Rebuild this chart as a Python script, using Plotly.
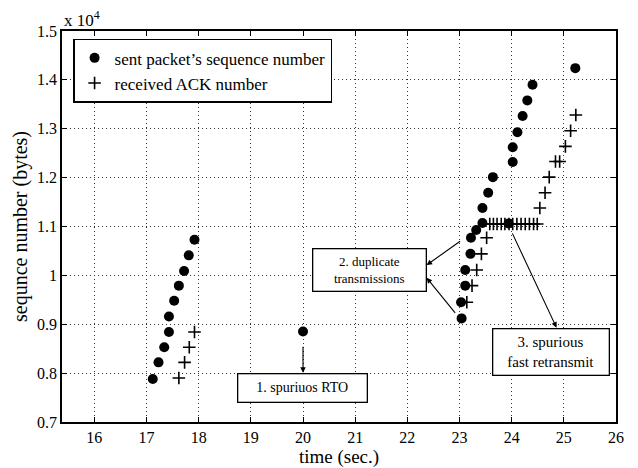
import plotly.graph_objects as go

# ---- data (sequence numbers in units of 10^4 bytes) ----
sent_t = [17.12, 17.23, 17.34, 17.43, 17.43, 17.53, 17.62, 17.72, 17.81, 17.92,
          20.0,
          23.04, 23.03, 23.11, 23.11, 23.21, 23.22, 23.32, 23.44, 23.44, 23.55, 23.64,
          23.94, 24.02, 24.02, 24.11, 24.21, 24.30, 24.40, 25.22]
sent_seq = [0.788, 0.822, 0.853, 0.884, 0.916, 0.948, 0.979, 1.009, 1.041, 1.073,
            0.885,
            0.912, 0.945, 0.979, 1.011, 1.044, 1.077, 1.093, 1.107, 1.138, 1.169, 1.201,
            1.106, 1.232, 1.262, 1.293, 1.326, 1.358, 1.390, 1.424]

ack_t = [17.62, 17.73, 17.82, 17.92,
         23.14, 23.24, 23.33, 23.42, 23.52,
         23.58, 23.65, 23.72, 23.80, 23.87, 23.95, 24.02, 24.10, 24.18, 24.26, 24.34, 24.42, 24.49,
         24.54, 24.64, 24.72, 24.84, 24.92, 25.03, 25.13, 25.23]
ack_seq = [0.790, 0.822, 0.853, 0.884,
           0.945, 0.979, 1.011, 1.044, 1.077,
           1.105, 1.105, 1.105, 1.105, 1.105, 1.105, 1.105, 1.105, 1.105, 1.105, 1.105, 1.105, 1.105,
           1.138, 1.169, 1.201, 1.233, 1.233, 1.264, 1.296, 1.328]

x_ticks = [16, 17, 18, 19, 20, 21, 22, 23, 24, 25, 26]
y_ticks = [0.7, 0.8, 0.9, 1.0, 1.1, 1.2, 1.3, 1.4, 1.5]
y_tick_text = ["0.7", "0.8", "0.9", "1", "1.1", "1.2", "1.3", "1.4", "1.5"]

FONT = "Liberation Serif"

fig = go.Figure()
fig.add_trace(go.Scatter(
    x=sent_t, y=sent_seq, mode="markers", name="sent packet\u2019s sequence number",
    marker=dict(symbol="circle", size=10, color="black")))
fig.add_trace(go.Scatter(
    x=ack_t, y=ack_seq, mode="markers", name="received ACK number",
    marker=dict(symbol="cross-thin", size=9, color="black",
                line=dict(color="black", width=1.6))))

def arrow(x, y, ax, ay):
    return dict(x=x, y=y, ax=ax, ay=ay, xref="x", yref="y", axref="x", ayref="y",
                text="", showarrow=True, arrowhead=2, arrowsize=1, arrowwidth=1.1,
                arrowcolor="black")

ann = []
# box 1
ann.append(dict(x=19.99, y=0.770, xref="x", yref="y", text="1. spuriuos RTO",
                showarrow=False, bordercolor="black", borderwidth=1.3, bgcolor="white",
                width=126, height=25, font=dict(family=FONT, size=14, color="black")))
ann.append(arrow(20.0, 0.801, 20.0, 0.857))
# box 2
ann.append(dict(x=21.27, y=1.010, xref="x", yref="y", text="2. duplicate<br>transmissions",
                showarrow=False, bordercolor="black", borderwidth=1.3, bgcolor="white",
                width=110, height=39, font=dict(family=FONT, size=13, color="black")))
ann.append(arrow(22.37, 1.021, 23.04, 1.072))
ann.append(arrow(22.37, 0.995, 22.94, 0.920))
# box 3
ann.append(dict(x=24.76, y=0.844, xref="x", yref="y", text="3. spurious<br>fast retransmit",
                showarrow=False, bordercolor="black", borderwidth=1.3, bgcolor="white",
                width=113, height=43, font=dict(family=FONT, size=15, color="black")))
ann.append(arrow(24.86, 0.893, 24.0, 1.089))
# exponent
ann.append(dict(x=0.0, y=1.0, xref="paper", yref="paper", xanchor="left", yanchor="bottom",
                text="x 10<sup>4</sup>", showarrow=False, yshift=-1,
                font=dict(family=FONT, size=17, color="black")))

axis_common = dict(showline=True, linecolor="black", linewidth=1.5, mirror="ticks",
                   ticks="inside", ticklen=5, tickwidth=1, tickcolor="black",
                   showgrid=True, gridcolor="#333333", gridwidth=1, griddash="1px,3px",
                   zeroline=False, automargin=False,
                   tickfont=dict(family=FONT, size=16, color="black"))

# the page body has an 8px margin, so the figure is sized to fit the 638x468 window
fig.update_layout(
    width=630, height=460,
    margin=dict(l=54, r=22, t=23, b=46),
    paper_bgcolor="white", plot_bgcolor="white",
    font=dict(family=FONT, color="black"),
    xaxis=dict(range=[15.38, 26], tickvals=x_ticks,
               title=dict(text="time (sec.)", font=dict(family=FONT, size=19), standoff=0),
               **axis_common),
    yaxis=dict(range=[0.7, 1.5], tickvals=y_ticks, ticktext=y_tick_text,
               title=dict(text="sequnce number (bytes)", font=dict(family=FONT, size=20), standoff=4),
               **axis_common),
    legend=dict(x=0.02, y=0.98, xanchor="left", yanchor="top",
                bgcolor="white", bordercolor="black", borderwidth=1.5,
                font=dict(family=FONT, size=17, color="black"),
                tracegroupgap=0, itemwidth=30),
    annotations=ann,
    showlegend=True,
)

fig.write_html("out.html")
